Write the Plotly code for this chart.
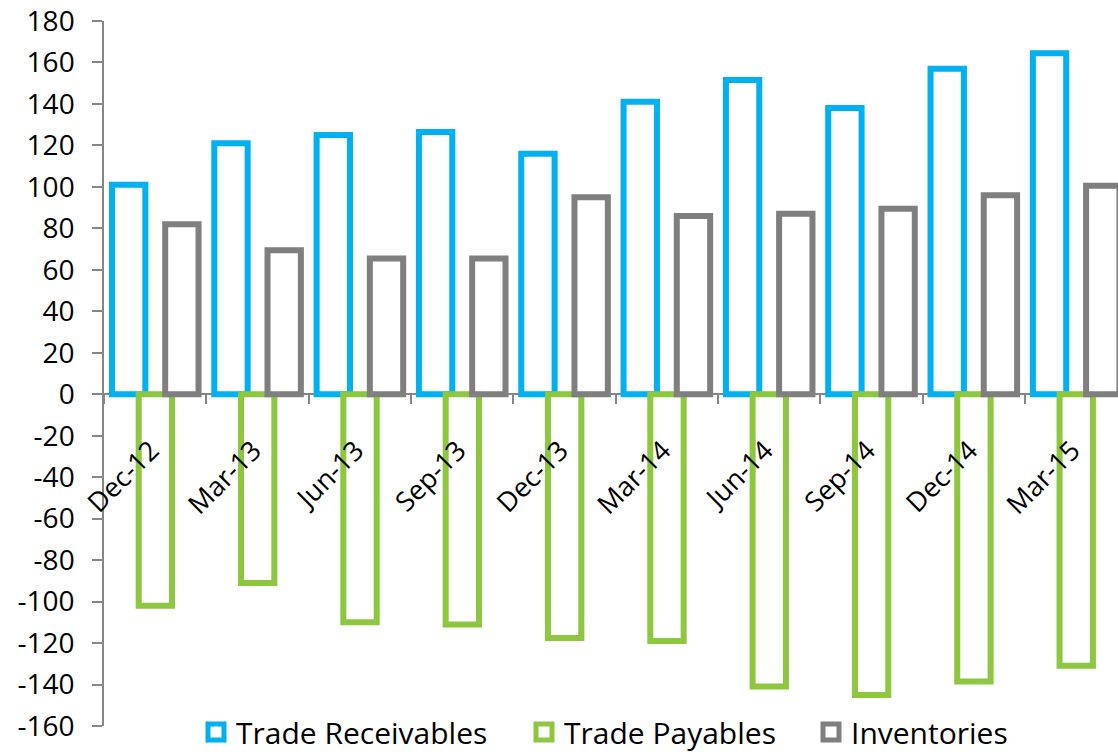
import plotly.graph_objects as go

categories = ["Dec-12", "Mar-13", "Jun-13", "Sep-13", "Dec-13",
              "Mar-14", "Jun-14", "Sep-14", "Dec-14", "Mar-15"]
trade_receivables = [101, 121, 125, 126.5, 116, 141, 151.5, 138, 157, 164.5]
trade_payables = [-102, -91, -110, -111, -117.5, -119, -141, -145, -138.5, -131]
inventories = [82, 69.5, 65.5, 65.5, 95, 86, 87, 89.5, 96, 100.5]
y_ticks = list(range(-160, 181, 20))
y_tick_labels = [str(v) for v in y_ticks]

BLUE = "#00B0F0"
GREEN = "#8DC63F"
GRAY = "#7F7F7F"
AXIS = "#868686"
FONT = "Open Sans"

W = 0.326
series = [
    ("Trade Receivables", trade_receivables, BLUE, -0.259, "legend"),
    ("Trade Payables", trade_payables, GREEN, 0.002, "legend2"),
    ("Inventories", inventories, GRAY, 0.261, "legend3"),
]

fig = go.Figure()
for name, vals, col, ctr, lg in series:
    fig.add_trace(go.Bar(
        x=categories, y=vals, name=name, width=W, offset=ctr - W / 2,
        marker=dict(color="white", line=dict(color=col, width=6)),
        showlegend=False,
    ))
for name, vals, col, ctr, lg in series:
    fig.add_trace(go.Scatter(
        x=[None], y=[None], mode="markers", name=name, legend=lg,
        marker=dict(symbol="square", size=16, color="white",
                    line=dict(color=col, width=5)),
    ))

legend_x = {"legend": 196, "legend2": 524, "legend3": 811}
legends = {}
for lg, px in legend_x.items():
    legends[lg] = dict(
        orientation="h", xref="container", yref="container",
        x=px / 1118, y=(752 - 732) / 752, xanchor="left", yanchor="middle",
        font=dict(family=FONT, size=30, color="#000000"),
        bgcolor="rgba(0,0,0,0)", borderwidth=0,
    )

fig.update_layout(
    width=1118, height=752,
    margin=dict(l=104, r=0, t=21, b=26, autoexpand=False),
    paper_bgcolor="white", plot_bgcolor="white",
    barmode="overlay",
    font=dict(family=FONT, color="#000000"),
    xaxis=dict(
        type="category", categoryorder="array", categoryarray=categories,
        range=[-0.5, 9.41], tickson="boundaries", ticks="outside", ticklen=9,
        tickcolor=AXIS, tickwidth=1.5, showline=False,
        anchor="free", position=160 / 340, tickangle=-45, showgrid=False,
        ticklabelstandoff=34, ticklabelshift=-4,
        tickfont=dict(family=FONT, size=27, color="#000000"),
    ),
    yaxis=dict(
        range=[-160, 180], tickvals=y_ticks, ticktext=y_tick_labels,
        ticks="outside", ticklen=10,
        tickcolor=AXIS, tickwidth=1.5, showline=True, linecolor=AXIS, linewidth=1.5,
        showgrid=False, zeroline=True, zerolinecolor=AXIS, zerolinewidth=1.5,
        ticklabelstandoff=12,
        tickfont=dict(family=FONT, size=28, color="#000000"),
    ),
    showlegend=True,
    **legends,
)

fig.write_html("out.html")
